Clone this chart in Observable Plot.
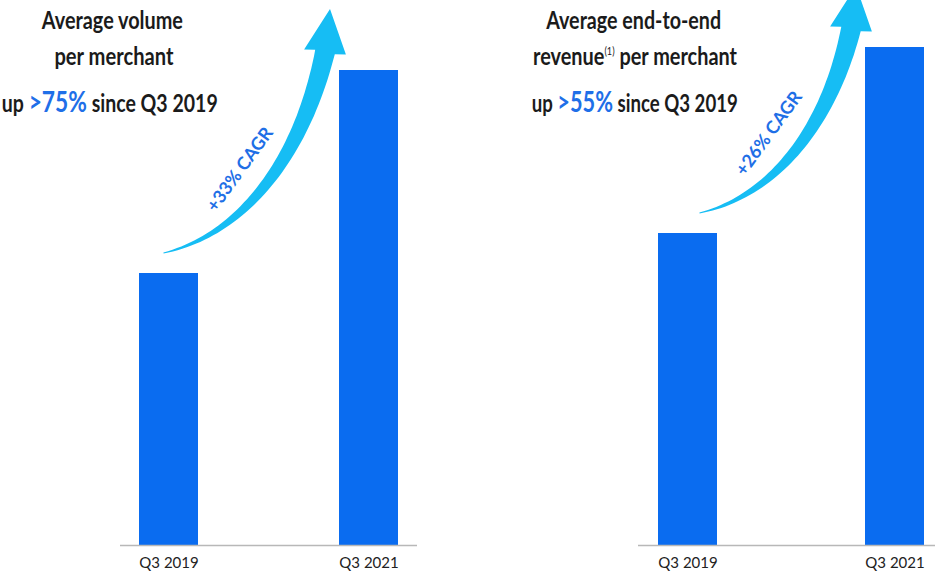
<!DOCTYPE html>
<html><head><meta charset="utf-8">
<script src="https://cdn.jsdelivr.net/npm/d3@7"></script>
<script src="https://cdn.jsdelivr.net/npm/@observablehq/plot@0.6"></script>
<style>
body{margin:0;background:#fff;}
#wrap{position:relative;width:935px;height:582px;overflow:hidden;font-family:Lato,"Open Sans",sans-serif;}
#wrap svg{position:absolute;left:0;top:0;}
.t{position:absolute;width:400px;text-align:center;white-space:nowrap;font-weight:700;font-size:24px;line-height:24px;height:24px;color:#1b1b1b;}
.t span.in{display:inline-block;transform-origin:center;}
.hl{color:#1f6fe8;font-weight:700;font-size:28px;line-height:24px;}
.sup{font-size:11px;font-weight:400;position:relative;top:-10px;line-height:0;}
</style></head>
<body><div id="wrap"></div>
<script>
// ---- data ----
const categories = ["Q3 2019", "Q3 2021"];
const volumeValues = [272, 475];     // relative bar heights (average volume per merchant)
const revenueValues = [312, 498];    // relative bar heights (average end-to-end revenue per merchant)
const cagrLabels = ["+33% CAGR", "+26% CAGR"];

const BAR = "#0a6cf0", ARROW = "#16bdf4", CAGR = "#1f6fe6";
const wrap = document.getElementById("wrap");

function scaleFns(chart){
  const sx = chart.scale("x"), sy = chart.scale("y");
  const bx = sx.apply ? (v => sx.apply(v)) :
    d3.scaleBand(sx.domain, sx.range).paddingInner(sx.paddingInner).paddingOuter(sx.paddingOuter).align(sx.align ?? 0.5);
  const by = sy.apply ? (v => sy.apply(v)) : d3.scaleLinear(sy.domain, sy.range);
  return {X: bx, Y: by, bw: sx.bandwidth};
}

function drawArrow(chart, values, tailDx){
  const {X, Y, bw} = scaleFns(chart);
  const T = [X(categories[0]) + bw/2 + tailDx, Y(values[0]) - 20];
  const tip = [X(categories[1]) - 9, Y(values[1]) - 61];
  const H = [tip[0]-5, tip[1]+43];
  const dx = H[0]-T[0], dy = H[1]-T[1];
  const P1 = [T[0]+0.48*dx, T[1]+0.09*dy];
  const P2 = [T[0]+0.85*dx, T[1]+0.46*dy];
  const bez = t => {
    const u = 1-t;
    return [u*u*u*T[0]+3*u*u*t*P1[0]+3*u*t*t*P2[0]+t*t*t*H[0],
            u*u*u*T[1]+3*u*u*t*P1[1]+3*u*t*t*P2[1]+t*t*t*H[1]];
  };
  const der = t => {
    const u = 1-t;
    return [3*u*u*(P1[0]-T[0])+6*u*t*(P2[0]-P1[0])+3*t*t*(H[0]-P2[0]),
            3*u*u*(P1[1]-T[1])+6*u*t*(P2[1]-P1[1])+3*t*t*(H[1]-P2[1])];
  };
  const L = [], R = [];
  const N = 50;
  for (let i=0;i<=N;i++){
    const t=i/N, p=bez(t), d=der(t), len=Math.hypot(d[0],d[1]);
    const n=[-d[1]/len, d[0]/len];
    const w=(1+19*t)/2;
    L.push([p[0]+n[0]*w, p[1]+n[1]*w]);
    R.push([p[0]-n[0]*w, p[1]-n[1]*w]);
  }
  const hd=[tip[0]-H[0], tip[1]-H[1]], hl=Math.hypot(hd[0],hd[1]);
  const hn=[-hd[1]/hl, hd[0]/hl];
  const wingL=[H[0]+hn[0]*21, H[1]+hn[1]*21], wingR=[H[0]-hn[0]*21, H[1]-hn[1]*21];
  const pts=[...L, wingL, tip, wingR, ...R.reverse()];
  d3.select(chart).append("path")
    .attr("d", "M"+pts.map(p=>p[0].toFixed(1)+","+p[1].toFixed(1)).join("L")+"Z")
    .attr("fill", ARROW);
}

function panel(values, label, opts){
  const data = categories.map((c,i)=>({period:c, value:values[i]}));
  const chart = Plot.plot({
    width: 935, height: 582,
    marginTop: 45, marginBottom: 37, marginLeft: opts.ml, marginRight: opts.mr,
    style: {background: "transparent", fontFamily: "Lato, 'Open Sans', sans-serif", fontSize: "15px", color: "#222"},
    x: {domain: categories, range: opts.range, paddingInner: opts.pi, paddingOuter: 0.092, tickSize: 0, tickPadding: 12, label: null},
    y: {domain: [0, 500], axis: null},
    marks: [
      Plot.barY(data, {x: "period", y: "value", fill: BAR}),
      Plot.ruleY([0], {stroke: "#b8b8b8", strokeWidth: 1.5}),
      Plot.text([data[0]], {x: "period", y: "value", text: () => label, dx: opts.tdx, dy: opts.tdy,
        rotate: -54, fill: CAGR, fontSize: 18, fontWeight: 700})
    ]
  });
  wrap.appendChild(chart);
  drawArrow(chart, values, opts.tailDx);
}

panel(volumeValues, cagrLabels[0], {ml:120, mr:518, range:[120,417], pi:0.706, tdx:71, tdy:-104, tailDx:-5});
panel(revenueValues, cagrLabels[1], {ml:638, mr:0, range:[638,943], pi:0.716, tdx:81, tdy:-100, tailDx:12});

// ---- titles ----
const titles = [
  {cx:112, base:29, w:141, html:"Average volume"},
  {cx:114, base:65, w:119, html:"per merchant"},
  {cx:110, base:110, w:216, html:'up <span class="hl">&gt;75%</span> since Q3 2019'},
  {cx:634, base:29, w:175, html:"Average end-to-end"},
  {cx:635, base:65, w:204, html:'revenue<span class="sup">(1)</span> per merchant'},
  {cx:635, base:110, w:206, html:'up <span class="hl">&gt;55%</span> since Q3 2019'}
];
titles.forEach(t=>{
  const d=document.createElement("div");
  d.className="t";
  d.style.left=(t.cx-200)+"px";
  d.style.top=(t.base-21)+"px";
  d.innerHTML='<span class="in">'+t.html+'</span>';
  wrap.appendChild(d);
  const s=d.querySelector(".in");
  const w=s.getBoundingClientRect().width;
  s.style.transform="scaleX("+(t.w/w).toFixed(3)+")";
});
</script>
</body></html>
